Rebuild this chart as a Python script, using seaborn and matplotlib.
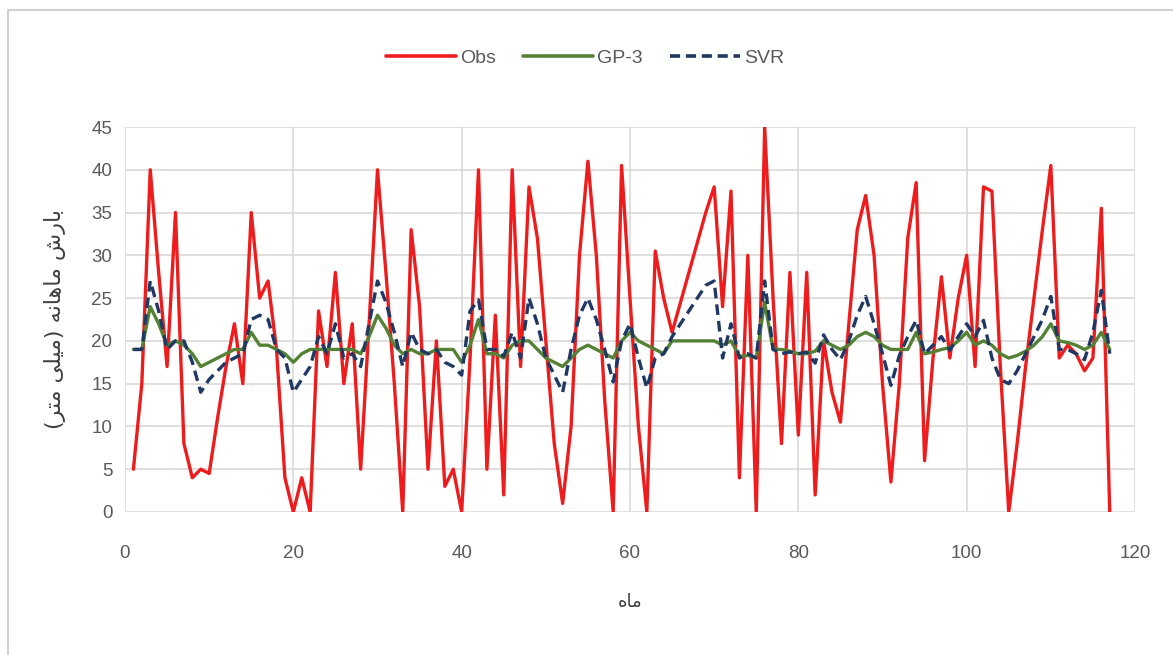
import numpy as np
import pandas as pd
import matplotlib
matplotlib.use("Agg")
import matplotlib.pyplot as plt
from matplotlib.lines import Line2D
import seaborn as sns

# ---------------- data ----------------
months = list(range(1, 118))

obs = [5, 15, 40, 28, 17, 35, 8, 4, 5, 4.5,
       11, 17, 22, 15, 35, 25, 27, 19, 4, 0,
       4, 0, 23.5, 17, 28, 15, 22, 5, 22, 40,
       28, 15, 0, 33, 24, 5, 20, 3, 5, 0,
       18, 40, 5, 23, 2, 40, 17, 38, 32, 20,
       8, 1, 10, 30, 41, 30, 13, 0, 40.5, 25,
       10, 0, 30.5, 25, 21, 24.5, 28, 31.5, 35, 38,
       24, 37.5, 4, 30, 0, 45, 25, 8, 28, 9,
       28, 2, 20, 14, 10.5, 22, 33, 37, 30, 15,
       3.5, 15, 32, 38.5, 6, 18, 27.5, 18, 25, 30,
       17, 38, 37.5, 17, 0, 8, 17, 25, 33, 40.5,
       18, 19.5, 18.5, 16.5, 18, 35.5, 0]

gp3 = [19, 19, 24, 22, 19.5, 20, 19.5, 18.5, 17, 17.5,
       18, 18.5, 19, 19, 21, 19.5, 19.5, 19, 18.5, 17.5,
       18.5, 19, 19, 19, 19, 19, 19, 18.5, 20.5, 23,
       21.5, 19.5, 18.5, 19, 18.5, 18.5, 19, 19, 19, 17.5,
       19.5, 22.5, 18.5, 18.5, 18, 19.5, 20, 20, 19, 18,
       17.5, 17, 18, 19, 19.5, 19, 18.5, 18, 20, 21,
       20, 19.5, 19, 18.5, 20, 20, 20, 20, 20, 20,
       19.5, 20, 18.2, 18.3, 18, 24.5, 19, 19, 18.8, 18.5,
       18.5, 18.8, 20, 19.5, 19, 19.5, 20.5, 21, 20.5, 19.5,
       19, 19, 19, 21, 18.5, 18.7, 19, 19.2, 20, 21,
       19.5, 20, 19.5, 18.5, 18, 18.3, 18.8, 19.5, 20.5, 22,
       20, 19.8, 19.5, 19, 19.5, 21, 19]

svr = [19, 19, 27, 23.5, 19, 20, 20, 17.5, 14, 15.5,
       16.5, 17.5, 18, 18.5, 22.5, 23, 22.5, 19, 18, 14,
       15.5, 17, 20.5, 18.5, 22, 18, 18.5, 17, 22, 27,
       24.5, 21, 17, 21, 19, 18.5, 19, 17.5, 17, 16,
       23.5, 24.8, 19, 19, 18.2, 21, 18, 25, 22, 18,
       16, 14, 19, 23, 25, 22.5, 19, 15.2, 20, 22,
       18, 14.5, 18, 18.5, 20.5, 22, 23.5, 25, 26.5, 27,
       18, 22, 18, 18.5, 18, 27, 19, 18.5, 18.7, 18.5,
       18.7, 17.4, 20.7, 19, 17.8, 20, 23, 25.2, 22, 18.5,
       14.8, 18.3, 20.5, 22.4, 18.5, 19.5, 20.5, 18.9, 20.5, 22,
       20.5, 22.4, 18, 15.5, 15, 16.5, 18.5, 20.5, 22.5, 25.2,
       19, 19, 18.5, 17.8, 21, 25.9, 18.5]

series_names = ["Obs", "GP-3", "SVR"]
x_ticks = [0, 20, 40, 60, 80, 100, 120]
y_ticks = [0, 5, 10, 15, 20, 25, 30, 35, 40, 45]

# Persian labels (shaped with Arabic presentation forms, visual order)
# y: "بارش ماهانه (میلی متر)"   x: "ماه"
y_label = ("(" + "\uFEAE\uFE98\uFEE3" + " " + "\uFEF0\uFEE0\uFEF4\uFEE3" + ")"
           + " " + "\uFEEA\uFEE7\uFE8E\uFEEB\uFE8E\uFEE3"
           + " " + "\uFEB5\uFEAD\uFE8E\uFE91")
x_label = "\uFEE9\uFE8E\uFEE3"

# ---------------- styling ----------------
sns.set_theme(style="white")
plt.rcParams['font.family'] = ['Liberation Sans', 'DejaVu Sans']

colors = {"Obs": "#ee1c1c", "GP-3": "#548235", "SVR": "#203864"}

df = pd.DataFrame({
    "month": months * 3,
    "value": obs + gp3 + svr,
    "series": ["Obs"] * len(obs) + ["GP-3"] * len(gp3) + ["SVR"] * len(svr),
})

fig = plt.figure(figsize=(11.73, 6.55), dpi=100)
ax = fig.add_axes([125 / 1173, 1 - 512 / 655, (1135 - 125) / 1173, (512 - 127) / 655])

sns.lineplot(data=df, x="month", y="value", hue="series", style="series",
             hue_order=series_names, style_order=series_names,
             palette=colors, dashes={"Obs": "", "GP-3": "", "SVR": (3.2, 1.8)},
             linewidth=2.4, ax=ax, legend=False, clip_on=True)

ax.set_xlim(0, 120)
ax.set_ylim(0, 45)
ax.set_xticks(x_ticks)
ax.set_yticks(y_ticks)
ax.grid(True, color="#d9d9d9", linewidth=1.2)
ax.set_axisbelow(True)
for s in ax.spines.values():
    s.set_visible(False)
ax.tick_params(axis="both", length=0, labelcolor="#595959", labelsize=13.5)
ax.tick_params(axis="x", pad=24)
ax.tick_params(axis="y", pad=9)

ax.set_xlabel(x_label, family=["DejaVu Sans"], fontsize=13, color="#404040", labelpad=22)
ax.set_ylabel(y_label, family=["DejaVu Sans"], fontsize=16, color="#404040", labelpad=18)

handles = [Line2D([0], [0], color=colors["Obs"], lw=2.6),
           Line2D([0], [0], color=colors["GP-3"], lw=2.6),
           Line2D([0], [0], color=colors["SVR"], lw=2.6, dashes=(2.8, 1.6))]
fig.legend(handles, series_names, loc="center", bbox_to_anchor=(585 / 1173, 1 - 58 / 655),
           ncol=3, frameon=False, fontsize=14, handlelength=3.6, handletextpad=0.2,
           columnspacing=1.4, labelcolor="#595959")

# chart-area border (top and left edges visible in reference)
fig.add_artist(Line2D([8 / 1173, 1.0], [1 - 10 / 655, 1 - 10 / 655], color="#d0d0d0", lw=1.5))
fig.add_artist(Line2D([8 / 1173, 8 / 1173], [0.0, 1 - 10 / 655], color="#d0d0d0", lw=1.5))

fig.savefig("out.png", dpi=100, facecolor="white")
